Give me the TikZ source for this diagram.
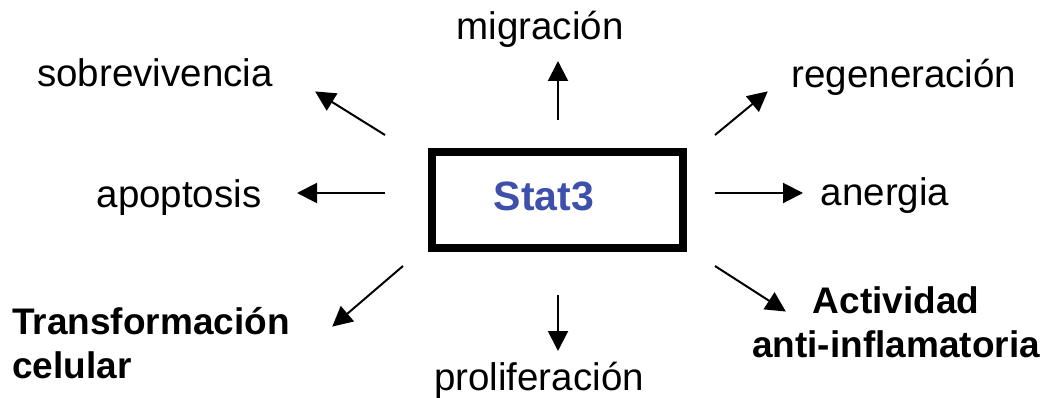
\documentclass[tikz,border=0pt]{standalone}
\usepackage{fontspec}
\setmainfont{Liberation Sans}
\usepackage{xcolor}
\usetikzlibrary{arrows.meta}
\definecolor{statblue}{RGB}{62,80,172}
\tikzset{
	caja/.style={
		draw,
		line width=8pt,
		minimum width=251pt,
		minimum height=96pt,
		inner sep=0,
	},
	efecto/.style={
		anchor=base,
		inner sep=0,
		font=\fontsize{38.5}{44}\selectfont,
	},
	efectob/.style={
		efecto,
		font=\fontsize{37}{44}\selectfont\bfseries,
	},
	flecha/.style={
		line width=2pt,
		-{Triangle[length=20pt,width=20pt]},
		shorten >=-1pt,
	}
}

\begin{document}
\begin{tikzpicture}[x=1pt,y=-1pt]
	\useasboundingbox (0,0) rectangle (1047,398);

	\node[caja] (stat3) at (557.5,200) {};
	\node[anchor=base,inner sep=0,text=statblue,font=\fontsize{41}{48}\selectfont\bfseries] (nombre) at (544,211) {Stat3};

	\node[efecto] (migra) at (540,40) {migración};
	\node[efecto] (sobre) at (155,87) {sobrevivencia};
	\node[efecto] (regen) at (904,88) {regeneración};
	\node[efecto] (apop) at (179,208) {apoptosis};
	\node[efecto] (anerg) at (885,206) {anergia};
	\node[efecto] (prolif) at (539,390) {proliferación};
	% el ancla base queda en la ultima linea
	\node[efectob,align=left,anchor=base west] (transf) at (12,378) {Transformación\\celular};
	\node[efectob,align=center] (activ) at (896,357) {Actividad\\anti-inflamatoria};

	% inicio y punta de cada flecha
	\coordinate (sobreA) at (385,135);   \coordinate (sobreB) at (316,92);
	\coordinate (regenA) at (715,135);   \coordinate (regenB) at (767,92);
	\coordinate (apopA) at (385,193);    \coordinate (apopB) at (298,193);
	\coordinate (anergA) at (715,193);   \coordinate (anergB) at (802,193);
	\coordinate (migraA) at (558,120);   \coordinate (migraB) at (558,62);
	\coordinate (prolifA) at (558,295);  \coordinate (prolifB) at (558,350);
	\coordinate (transfA) at (403,266);  \coordinate (transfB) at (333,326);
	\coordinate (activA) at (715,266);   \coordinate (activB) at (785,311);

	\foreach \f in {sobre,regen,apop,anerg,migra,prolif,transf,activ}
		\draw[flecha] (\f A) -- (\f B);

\end{tikzpicture}
\end{document}
